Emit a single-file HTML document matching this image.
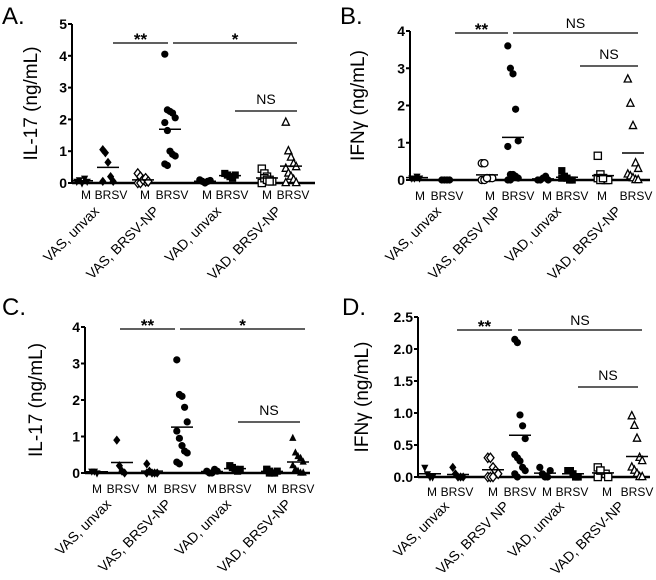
<!DOCTYPE html>
<html><head><meta charset="utf-8">
<style>
html,body{margin:0;padding:0;background:#fff;}
svg{display:block;font-family:"Liberation Sans",Arial,sans-serif;}
</style></head>
<body>
<svg id="fig" width="656" height="580" viewBox="0 0 656 580" xmlns="http://www.w3.org/2000/svg"></svg>
<script>
// ---- data (ng/mL) ----
const groupLabels = ["VAS, unvax","VAS, BRSV-NP","VAD, unvax","VAD, BRSV-NP"];
const groupLabelsB = ["VAS, unvax","VAS, BRSV NP","VAD, unvax","VAD, BRSV-NP"];
const subLabels = ["M","BRSV"];
const ticksA = [0,1,2,3,4,5];
const ticksB = [0,1,2,3,4];
const ticksC = [0,1,2,3,4];
const ticksD = ["0.0","0.5","1.0","1.5","2.0","2.5"];
const dataA = [
 [0.05,0.1,0.0,0.15,0.05],
 [1.05,0.95,0.65,0.2,0.05,0.05],
 [0.3,0.2,0.1,0.05,0.05,0.0,0.0,0.1,0.15,0.05],
 [4.05,2.3,2.25,2.2,2.05,1.9,1.65,1.0,0.9,0.85,0.6,0.55],
 [0.1,0.05,0.0,0.05,0.08],
 [0.3,0.25,0.2,0.15,0.25],
 [0.45,0.3,0.2,0.1,0.05,0.0,0.15,0.1,0.05],
 [1.9,1.0,0.8,0.6,0.5,0.45,0.3,0.2,0.1,0.0,0.0]
];
const dataB = [
 [0.05,0.05,0.1,0.05],
 [0,0,0,0],
 [0.45,0.45,0.05,0.05,0.05,0.0,0.0,0.05],
 [3.6,3.0,2.85,1.9,1.05,0.9,0.15,0.15,0.1,0.05,0.0,0.0],
 [0.0,0.0,0.05,0.1,0.0],
 [0.25,0.1,0.05,0.0,0.0,0.05],
 [0.65,0.15,0.05,0.0,0.0,0.05,0.0,0.05],
 [2.7,2.05,1.45,0.45,0.3,0.15,0.1,0.05,0.0,0.0]
];
const dataC = [
 [0.05,0.05,0.0],
 [0.9,0.2,0.05,0.0],
 [0.25,0.05,0.0,0.0,0.0,0.0,0.05],
 [3.1,2.15,2.1,1.8,1.4,1.15,0.95,0.75,0.6,0.55,0.3,0.25],
 [0.05,0.0,0.0,0.1,0.05],
 [0.2,0.15,0.1,0.05,0.1],
 [0.1,0.05,0.0,0.0,0.05,0.1,0.0],
 [0.95,0.55,0.45,0.4,0.3,0.2,0.1,0.05,0.0,0.0]
];
const dataD = [
 [0.15,0.05,0.0,0.0],
 [0.15,0.05,0.0,0.0,0.0],
 [0.3,0.3,0.15,0.1,0.05,0.0,0.0,0.0],
 [2.15,2.1,0.97,0.8,0.6,0.35,0.3,0.25,0.15,0.1,0.05,0.0],
 [0.15,0.05,0.0,0.0,0.1],
 [0.1,0.1,0.05,0.0,0.0],
 [0.15,0.1,0.05,0.05,0.0,0.0,0.1],
 [0.95,0.8,0.6,0.3,0.25,0.15,0.1,0.05,0.0,0.0]
];
const sigA = ["**","*","NS"];
const sigB = ["**","NS","NS"];
const sigC = ["**","*","NS"];
const sigD = ["**","NS","NS"];

// ---- layout (pixels, not data) ----
const NS_="http://www.w3.org/2000/svg";
const svg=document.getElementById('fig');
function mk(tag,attrs,parent,text){const e=document.createElementNS(NS_,tag);for(const k in attrs)e.setAttribute(k,attrs[k]);if(text!==undefined)e.textContent=text;(parent||svg).appendChild(e);return e;}

const panels=[
 {id:'a',letter:'A.',lx:2,ly:24,title:'IL-17 (ng/mL)',tx:37,ax:72,y0:183,yTop:24,max:5,xEnd:315,ticks:ticksA,data:dataA,labels:groupLabels,sig:sigA,
  gx:[82,108,143,170,205,230,267,291],lbx:[86,111,145,172,207,232,267,293],labY:199,catEnd:[100,160,222,282],catY:212,
  sl:[43,113,168,173,297],ns:[111,235,297],shapes:['tri-down','diamond','odiamond','circle','circle','square','osquare','otri']},
 {id:'b',letter:'B.',lx:340,ly:24,title:'IFNγ (ng/mL)',tx:364,ax:410,y0:180,yTop:31,max:4,xEnd:650,ticks:ticksB,data:dataB,labels:groupLabelsB,sig:sigB,
  gx:[417,447,487,513,543,567,603,633],lbx:[420,447,490,518,547,572,602,636],labY:200,catEnd:[442,502,562,622],catY:212,
  sl:[33,455,508,513,638],ns:[66,580,638],shapes:['tri-down','circle','ocircle','circle','circle','square','osquare','otri']},
 {id:'c',letter:'C.',lx:2,ly:315,title:'IL-17 (ng/mL)',tx:42,ax:85,y0:473,yTop:327,max:4,xEnd:310,ticks:ticksC,data:dataC,labels:groupLabels,sig:sigC,
  gx:[97,122,152,182,212,235,272,298],lbx:[97,123,152,180,212,235,272,298],labY:493,catEnd:[112,172,232,292],catY:505,
  sl:[329,120,175,180,305],ns:[422,238,300],shapes:['tri-down','diamond','diamond','circle','circle','square','square','tri']},
 {id:'d',letter:'D.',lx:342,ly:315,title:'IFNγ (ng/mL)',tx:368,ax:418,y0:477,yTop:317,max:2.5,xEnd:650,ticks:ticksD,data:dataD,labels:groupLabelsB,sig:sigD,
  gx:[430,458,493,520,545,573,603,637],lbx:[432,457,493,520,547,572,607,637],labY:496,catEnd:[450,510,565,625],catY:507,
  sl:[330,457,512,518,642],ns:[387,578,638],shapes:['tri-down','diamond','odiamond','circle','circle','square','osquare','otri']}
];

function drawMarker(g,shape,x,y){
 const r=3.6;
 const open=shape[0]==='o';
 const s=open?shape.slice(1):shape;
 const st=open?{fill:'#fff',stroke:'#000','stroke-width':1.3}:{fill:'#000'};
 if(s==='square'){return mk('rect',Object.assign({x:x-r,y:y-r,width:2*r,height:2*r},st),g);}
 if(s==='diamond'){return mk('polygon',Object.assign({points:`${x},${y-r-1} ${x+r},${y} ${x},${y+r+1} ${x-r},${y}`},st),g);}
 if(s==='tri'){return mk('polygon',Object.assign({points:`${x},${y-r-1} ${x+r},${y+r-1} ${x-r},${y+r-1}`},st),g);}
 if(s==='tri-down'){return mk('polygon',Object.assign({points:`${x-r},${y-r+1} ${x+r},${y-r+1} ${x},${y+r+1}`},st),g);}
 return mk('circle',Object.assign({cx:x,cy:y,r:r},st),g);
}

panels.forEach(p=>{
 const g=mk('g',{});
 
 
 const yS=v=>p.y0-(v/p.max)*(p.y0-p.yTop);
 const t=mk('text',{x:p.lx,y:p.ly,'font-size':24},g,p.letter);
 
 
 const yt=mk('text',{x:p.tx,y:(p.y0+p.yTop)/2,'font-size':19,'text-anchor':'middle',transform:`rotate(-90 ${p.tx} ${(p.y0+p.yTop)/2})`},g,p.title);
 
 
 const ya=mk('line',{x1:p.ax,y1:p.yTop,x2:p.ax,y2:p.y0,stroke:'#000','stroke-width':2},g);
 
 
 const xa=mk('line',{x1:p.ax,y1:p.y0,x2:p.xEnd,y2:p.y0,stroke:'#000','stroke-width':2.5},g);
 
 
 p.ticks.forEach(tk=>{
  const y=yS(parseFloat(tk));
  mk('line',{x1:p.ax-4,y1:y,x2:p.ax,y2:y,stroke:'#000','stroke-width':2},g);
  const tl=mk('text',{x:p.ax-5,y:y+5,'font-size':14,'font-weight':'bold','text-anchor':'end'},g,String(tk));
  
  
 });
 p.data.forEach((vals,i)=>{
  const cx=p.gx[i];
  vals.forEach((v,j)=>{
   const off=((j%5)-2)*2.6;
   const m=drawMarker(g,p.shapes[i],cx+off,yS(v));
   
   
  });
  const mean=vals.reduce((a,b)=>a+b,0)/vals.length;
  const ml=mk('line',{x1:cx-11,y1:yS(mean),x2:cx+11,y2:yS(mean),stroke:'#000','stroke-width':1.5},g);
  
  
  const sl=mk('text',{x:p.lbx[i],y:p.labY,'font-size':12,'text-anchor':'middle'},g,subLabels[i%2]);
  
  
 });
 p.labels.forEach((lab,k)=>{
  const x=p.catEnd[k],y=p.catY;
  const c=mk('text',{x:x,y:y,'font-size':14,'text-anchor':'end',transform:`rotate(-45 ${x} ${y})`},g,lab);
  
  
 });
 const s=p.sl;
 [[s[1],s[2],p.sig[0]],[s[3],s[4],p.sig[1]]].forEach(([a,b,txt])=>{
  const l=mk('line',{x1:a,y1:s[0],x2:b,y2:s[0],stroke:'#000','stroke-width':1.2},g);
  
  
  const st=mk('text',{x:(a+b)/2,y:s[0]-(txt==='NS'?5:-2),'font-size':txt==='NS'?14:17,'font-weight':txt==='NS'?'normal':'bold','text-anchor':'middle'},g,txt);
  
  
 });
 const n=p.ns;
 const nl=mk('line',{x1:n[1],y1:n[0],x2:n[2],y2:n[0],stroke:'#000','stroke-width':1.2},g);
 
 
 const nt=mk('text',{x:(n[1]+n[2])/2,y:n[0]-7,'font-size':14,'text-anchor':'middle'},g,p.sig[2]);
 
 
});
</script>
</body></html>
